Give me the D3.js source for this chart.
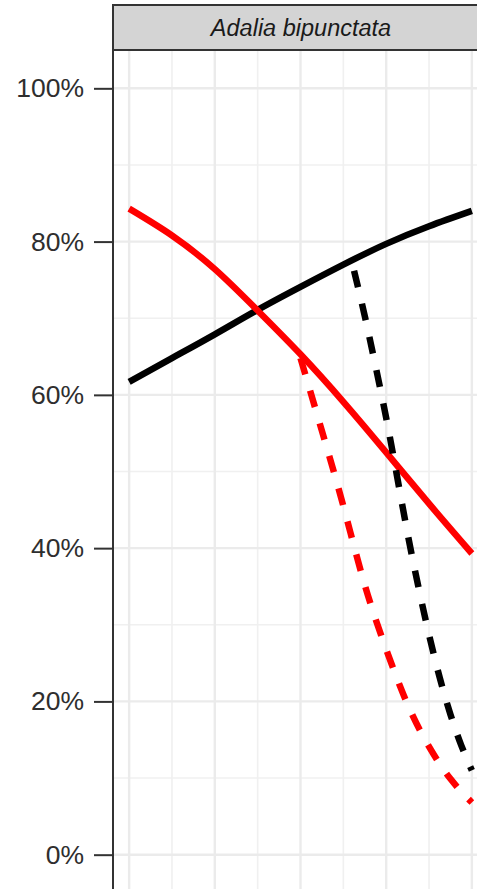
<!DOCTYPE html>
<html>
<head>
<meta charset="utf-8">
<script src="https://cdn.jsdelivr.net/npm/d3@7"></script>
<style>
  html, body { margin: 0; padding: 0; background: #fff; }
  svg { display: block; }
</style>
</head>
<body>
<svg id="chart" width="477" height="889"></svg>
<script>
// Panel title
const panelTitle = "Adalia bipunctata";

// Predicted proportions along the x gradient
const xSteps      = [0, 1, 2, 3, 4, 5, 6, 7, 8];
const blackSolid  = [0.617, 0.648, 0.679, 0.711, 0.741, 0.770, 0.797, 0.820, 0.840];
const redSolid    = [0.843, 0.808, 0.764, 0.710, 0.653, 0.591, 0.525, 0.458, 0.393];

const redDashedX  = [4, 4.5, 5, 5.5, 6, 6.5, 7, 7.5, 8];
const redDashed   = [0.648, 0.553, 0.455, 0.352, 0.268, 0.196, 0.141, 0.099, 0.068];

const blackDashedX = [5.25, 5.5, 5.75, 6, 6.25, 6.5, 6.75, 7, 7.25, 7.5, 7.75, 8];
const blackDashed  = [0.762, 0.703, 0.638, 0.570, 0.495, 0.419, 0.350, 0.287, 0.231, 0.183, 0.143, 0.110];

// Axis ticks
const yTickValues = [0, 0.2, 0.4, 0.6, 0.8, 1.0];
const yTickLabels = ["0%", "20%", "40%", "60%", "80%", "100%"];
const yMinorValues = [0.1, 0.3, 0.5, 0.7, 0.9];
const xMajorValues = [0, 2, 4, 6, 8];
const xMinorValues = [1, 3, 5, 7];

const svg = d3.select("#chart");

const panel = { left: 113, right: 489, top: 50, bottom: 893 };
const strip = { top: 5, bottom: 50 };

const x = d3.scaleLinear().domain([-0.4, 8.4]).range([panel.left - 1, panel.right]);
const y = d3.scaleLinear().domain([-0.05, 1.05]).range([panel.bottom, panel.top]);

// panel background
svg.append("rect")
  .attr("x", panel.left).attr("y", panel.top)
  .attr("width", panel.right - panel.left).attr("height", panel.bottom - panel.top)
  .attr("fill", "#fff");

const grid = svg.append("g");
// minor grid
grid.selectAll("line.ymin").data(yMinorValues).join("line")
  .attr("x1", panel.left).attr("x2", panel.right)
  .attr("y1", d => y(d)).attr("y2", d => y(d))
  .attr("stroke", "#f0f0f0").attr("stroke-width", 1.6);
grid.selectAll("line.xmin").data(xMinorValues).join("line")
  .attr("y1", panel.top).attr("y2", panel.bottom)
  .attr("x1", d => x(d)).attr("x2", d => x(d))
  .attr("stroke", "#f0f0f0").attr("stroke-width", 1.6);
// major grid
grid.selectAll("line.ymaj").data(yTickValues).join("line")
  .attr("x1", panel.left).attr("x2", panel.right)
  .attr("y1", d => y(d)).attr("y2", d => y(d))
  .attr("stroke", "#ebebeb").attr("stroke-width", 2.4);
grid.selectAll("line.xmaj").data(xMajorValues).join("line")
  .attr("y1", panel.top).attr("y2", panel.bottom)
  .attr("x1", d => x(d)).attr("x2", d => x(d))
  .attr("stroke", "#ebebeb").attr("stroke-width", 2.4);

// curves
const line = d3.line()
  .x(d => x(d[0])).y(d => y(d[1]))
  .curve(d3.curveNatural);

const series = [
  { xs: xSteps, ys: blackSolid, color: "#000000", dash: null },
  { xs: xSteps, ys: redSolid, color: "#ff0000", dash: null },
  { xs: redDashedX, ys: redDashed, color: "#ff0000", dash: "17,17" },
  { xs: blackDashedX, ys: blackDashed, color: "#000000", dash: "17,17" }
];

svg.append("g").selectAll("path").data(series).join("path")
  .attr("d", s => line(s.xs.map((v, i) => [v, s.ys[i]])))
  .attr("fill", "none")
  .attr("stroke", s => s.color)
  .attr("stroke-width", 6.5)
  .attr("stroke-linecap", "butt")
  .attr("stroke-dasharray", s => s.dash);

// panel border
svg.append("rect")
  .attr("x", panel.left).attr("y", panel.top)
  .attr("width", panel.right - panel.left).attr("height", panel.bottom - panel.top)
  .attr("fill", "none").attr("stroke", "#333").attr("stroke-width", 2);

// strip
svg.append("rect")
  .attr("x", panel.left).attr("y", strip.top)
  .attr("width", panel.right - panel.left).attr("height", strip.bottom - strip.top)
  .attr("fill", "#d4d4d4").attr("stroke", "#333").attr("stroke-width", 2);
svg.append("text")
  .attr("x", (panel.left + panel.right) / 2)
  .attr("y", (strip.top + strip.bottom) / 2)
  .attr("dy", "0.35em")
  .attr("text-anchor", "middle")
  .attr("font-family", "Liberation Sans, Arial, Helvetica, sans-serif")
  .attr("font-style", "italic")
  .attr("font-size", 23.5)
  .attr("fill", "#1a1a1a")
  .text(panelTitle);

// y axis
const yAxis = d3.axisLeft(y)
  .tickValues(yTickValues)
  .tickFormat((d, i) => yTickLabels[i])
  .tickSize(19)
  .tickPadding(10);

const ga = svg.append("g")
  .attr("transform", `translate(${panel.left},0)`)
  .call(yAxis);
ga.select(".domain").remove();
ga.selectAll(".tick line").attr("stroke", "#333").attr("stroke-width", 2);
ga.selectAll(".tick text")
  .attr("font-family", "Liberation Sans, Arial, Helvetica, sans-serif")
  .attr("font-size", 26.5)
  .attr("fill", "#2e2e2e");
</script>
</body>
</html>
